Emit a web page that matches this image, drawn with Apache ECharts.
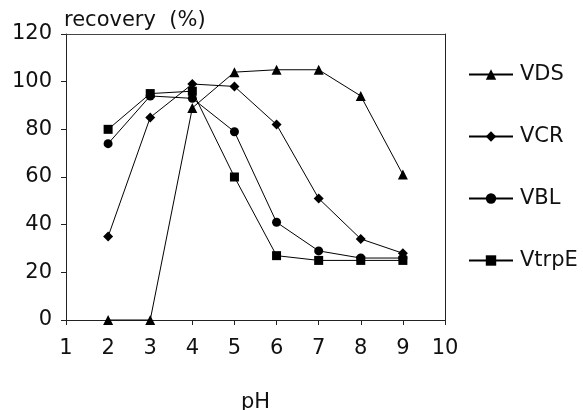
<!DOCTYPE html>
<html>
<head>
<meta charset="utf-8">
<script src="https://cdn.jsdelivr.net/npm/echarts@6/dist/echarts.min.js"></script>
<style>html,body{margin:0;padding:0;background:#fff;}#c{width:583px;height:410px;}</style>
</head>
<body>
<div id="c"></div>
<script>
var phValues = [2, 3, 4, 5, 6, 7, 8, 9];
var VDS = [0, 0, 89, 104, 105, 105, 94, 61];
var VCR = [35, 85, 99, 98, 82, 51, 34, 28];
var VBL = [74, 94, 93, 79, 41, 29, 26, 26];
var VtrpE = [80, 95, 96, 60, 27, 25, 25, 25];
var seriesNames = ['VDS', 'VCR', 'VBL', 'VtrpE'];
var seriesSymbols = ['triangle', 'diamond', 'circle', 'rect'];
var xTicks = [1, 2, 3, 4, 5, 6, 7, 8, 9, 10];
var yTicks = [0, 20, 40, 60, 80, 100, 120];

var FONT = 'DejaVu Sans';
function pairs(vals) { return phValues.map(function (x, i) { return [x, vals[i]]; }); }
var allVals = [VDS, VCR, VBL, VtrpE];
var sizes = [10, 10, 9, 9];

var chart = echarts.init(document.getElementById('c'), null, {renderer: 'canvas'});
chart.setOption({
  animation: false,
  backgroundColor: '#fff',
  grid: {left: 66, right: 138, top: 34, bottom: 90, containLabel: false, outerBoundsMode: 'none'},
  legend: {
    orient: 'vertical',
    left: 463,
    top: 59,
    itemWidth: 44,
    itemHeight: 13,
    itemGap: 41,
    textStyle: {fontFamily: FONT, fontSize: 21, color: '#111', padding: [0, 0, 0, 2]},
    data: seriesNames
  },
  xAxis: [{
    type: 'value', min: xTicks[0], max: xTicks[xTicks.length - 1], interval: 1,
    name: 'pH', nameLocation: 'middle', nameGap: 72,
    nameTextStyle: {fontFamily: FONT, fontSize: 21, color: '#111'},
    axisLine: {show: true, onZero: false, lineStyle: {color: '#222', width: 1}},
    axisTick: {show: true, inside: false, length: 5, lineStyle: {color: '#222'}},
    axisLabel: {fontFamily: FONT, fontSize: 21, color: '#111', margin: 18},
    splitLine: {show: false}
  }, {
    type: 'value', min: xTicks[0], max: xTicks[xTicks.length - 1], interval: 1, position: 'top',
    axisLine: {show: true, onZero: false, lineStyle: {color: '#444', width: 1}},
    axisTick: {show: false}, axisLabel: {show: false}, splitLine: {show: false}
  }],
  yAxis: [{
    type: 'value', min: yTicks[0], max: yTicks[yTicks.length - 1], interval: 20,
    name: 'recovery  (%)', nameLocation: 'end', nameGap: 3,
    nameTextStyle: {fontFamily: FONT, fontSize: 21, color: '#111', align: 'left', padding: [0, 0, 0, -2]},
    axisLine: {show: true, onZero: false, lineStyle: {color: '#222', width: 1}},
    axisTick: {show: true, inside: false, length: 5, lineStyle: {color: '#222'}},
    axisLabel: {fontFamily: FONT, fontSize: 21, color: '#111', margin: 14},
    splitLine: {show: false}
  }, {
    type: 'value', min: yTicks[0], max: yTicks[yTicks.length - 1], interval: 20, position: 'right',
    axisLine: {show: true, onZero: false, lineStyle: {color: '#222', width: 1}},
    axisTick: {show: false}, axisLabel: {show: false}, splitLine: {show: false}
  }],
  series: seriesNames.map(function (n, i) {
    return {
      name: n, type: 'line', data: pairs(allVals[i]),
      symbol: seriesSymbols[i], symbolSize: sizes[i], showSymbol: true,
      itemStyle: {color: '#000'},
      lineStyle: {color: '#000', width: 1},
      z: 2 + i
    };
  })
});
</script>
</body>
</html>
